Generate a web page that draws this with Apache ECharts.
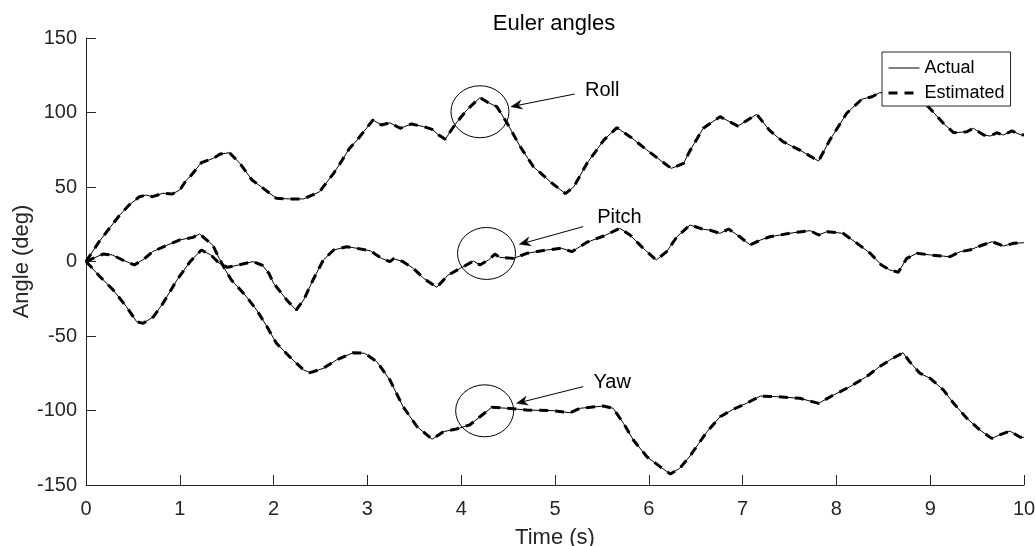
<!DOCTYPE html>
<html>
<head>
<meta charset="utf-8">
<title>Euler angles</title>
<script src="https://cdn.jsdelivr.net/npm/echarts@6/dist/echarts.min.js"></script>
<style>
  html, body { margin: 0; padding: 0; background: #fff; }
  #chart { width: 1035px; height: 546px; }
</style>
</head>
<body>
<div id="chart"></div>
<script>
// Time stamps (s) and angles (deg) for each Euler angle
const rollTime = [0, 0.14, 0.25, 0.36, 0.46, 0.57, 0.64, 0.71, 0.82, 0.92, 1.0, 1.07, 1.11, 1.23, 1.36, 1.43, 1.53, 1.64, 1.77, 1.89, 2.03, 2.17, 2.32, 2.49, 2.64, 2.71, 2.81, 2.89, 3.06, 3.15, 3.24, 3.35, 3.47, 3.6, 3.69, 3.76, 3.83, 3.93, 4.06, 4.2, 4.29, 4.38, 4.49, 4.63, 4.77, 4.95, 5.11, 5.2, 5.34, 5.52, 5.66, 5.8, 5.98, 6.12, 6.24, 6.37, 6.44, 6.58, 6.76, 6.95, 7.15, 7.29, 7.43, 7.61, 7.81, 7.93, 8.11, 8.27, 8.38, 8.46, 8.55, 8.65, 8.75, 8.85, 8.98, 9.14, 9.25, 9.39, 9.46, 9.57, 9.64, 9.71, 9.78, 9.87, 9.97, 10];
const rollAngle = [0, 13.3, 22.3, 31.2, 37.9, 43.5, 44.6, 43.5, 45.8, 45.3, 48, 54.7, 57, 66.3, 69.3, 72.1, 73, 65.9, 54.7, 49.1, 42.4, 42, 42, 46.8, 59.2, 65.9, 76, 81.5, 95, 91.6, 93.1, 89.4, 92.3, 90.5, 88.7, 84.9, 82, 91.6, 101.7, 110, 106.6, 103.9, 92.8, 77, 63.6, 53.5, 45.6, 50.1, 65.8, 81.5, 89.8, 83.8, 74.8, 68.1, 62.5, 65.8, 74.5, 89.4, 97.2, 90.9, 98.8, 87.8, 80.4, 74.8, 67.4, 81.5, 99.5, 108.9, 110.6, 113.3, 113, 114, 112, 110, 103.9, 92.8, 86.4, 87.1, 89.4, 84.9, 84.2, 86.4, 84.9, 87.6, 84.9, 85];

const pitchTime = [0, 0.15, 0.29, 0.43, 0.54, 0.61, 0.72, 0.82, 0.97, 1.11, 1.23, 1.33, 1.42, 1.51, 1.63, 1.78, 1.88, 1.95, 2.0, 2.14, 2.24, 2.32, 2.42, 2.53, 2.64, 2.78, 2.85, 3.03, 3.15, 3.24, 3.28, 3.38, 3.49, 3.6, 3.74, 3.86, 3.99, 4.13, 4.2, 4.29, 4.36, 4.41, 4.56, 4.7, 4.91, 5.07, 5.18, 5.34, 5.52, 5.69, 5.8, 5.94, 6.08, 6.19, 6.3, 6.44, 6.58, 6.65, 6.76, 6.85, 6.97, 7.08, 7.19, 7.29, 7.54, 7.72, 7.81, 7.9, 8.07, 8.22, 8.36, 8.48, 8.57, 8.66, 8.75, 8.86, 9.0, 9.21, 9.32, 9.42, 9.53, 9.66, 9.78, 9.89, 10];
const pitchAngle = [0, -10.2, -19.1, -30.3, -40.4, -41.5, -37, -28.1, -12.4, -0.1, 7.7, 4.4, -1.2, -3.9, -2.3, -0.1, -2.5, -8, -14.6, -25.8, -32.6, -25.8, -12.4, 1.0, 7.7, 9.9, 9.3, 7.2, 2.1, -0.1, 1.9, -0.1, -4.6, -11.3, -17.3, -9.1, -4.6, 0.3, -2.3, 1.0, 5.0, 2.8, 2.1, 5.5, 7.7, 8.9, 6.6, 12.9, 17.1, 22.3, 17.8, 8.9, 1.0, 6.6, 16.6, 24.5, 21.6, 21.1, 18.9, 21.8, 16.6, 11.1, 14.4, 16.6, 19.3, 20.7, 17.8, 20.0, 18.9, 12.2, 5.5, -2.3, -5.7, -7.2, 2.1, 5.5, 4.4, 3.2, 6.6, 7.7, 10.4, 13.3, 10.4, 12.2, 12.6];

const yawTime = [0, 0.18, 0.28, 0.39, 0.515, 0.62, 0.71, 0.85, 0.995, 1.14, 1.21, 1.35, 1.42, 1.49, 1.55, 1.71, 1.82, 1.93, 2.03, 2.17, 2.32, 2.39, 2.53, 2.67, 2.85, 2.97, 3.1, 3.24, 3.38, 3.53, 3.69, 3.81, 3.95, 4.09, 4.2, 4.325, 4.49, 4.7, 4.98, 5.16, 5.27, 5.515, 5.62, 5.73, 5.835, 5.98, 6.12, 6.23, 6.33, 6.44, 6.62, 6.76, 6.9, 7.04, 7.19, 7.36, 7.61, 7.81, 7.97, 8.145, 8.32, 8.46, 8.57, 8.71, 8.78, 8.89, 9.0, 9.14, 9.25, 9.39, 9.53, 9.655, 9.74, 9.85, 9.96, 10];
const yawAngle = [0, 5.0, 4.4, 1.0, -2.3, 1.7, 6.6, 10.6, 14.4, 16.2, 18.5, 11.1, 2.1, -6.2, -12.4, -23.6, -32.6, -43.8, -54.9, -63.9, -72.8, -74.6, -71.7, -66.1, -61.2, -61.6, -67.2, -79.5, -97.4, -110.9, -119.3, -114.2, -112.4, -109.7, -104.2, -97.9, -98.5, -99.7, -100.1, -101.5, -98.5, -97, -98.5, -108.6, -119.8, -131, -137.7, -142.6, -138.8, -130.5, -114.2, -104.2, -99.2, -95.2, -90.3, -90.7, -91.8, -95.2, -89.6, -84, -77.3, -70.6, -66.1, -61.2, -67.2, -75, -78.4, -86.2, -95.2, -105.2, -113.1, -118.7, -116.4, -113.8, -118, -118];

// Axis ticks
const timeTicks = [0, 1, 2, 3, 4, 5, 6, 7, 8, 9, 10];
const angleTicks = [-150, -100, -50, 0, 50, 100, 150];

// Callouts: label, ellipse centre, arrow tail, arrow head, label anchor (data units)
const calloutLabels = ['Roll', 'Pitch', 'Yaw'];
const calloutPlacement = [
  [4.2, 100.5, 5.21, 112.4, 4.53, 103.9, 5.32, 115],
  [4.27, 5.4, 5.30, 23.4, 4.62, 11.5, 5.45, 29.4],
  [4.25, -100.2, 5.30, -84, 4.59, -95.2, 5.41, -81.3]
];

const FONT = '"Liberation Sans", Arial, Helvetica, sans-serif';
const AXIS_COLOR = '#262626';
const ACTUAL_LINE = { color: '#000', width: 1, type: 'solid' };
const ESTIMATED_LINE = { color: '#000', width: 3, type: [9, 7] };

function pairs(ts, vs) {
  return ts.map((t, i) => [t, vs[i]]);
}

const curves = [
  pairs(rollTime, rollAngle),
  pairs(pitchTime, pitchAngle),
  pairs(yawTime, yawAngle)
];

const actualSeries = curves.map(d => ({
  name: 'Actual',
  type: 'line',
  data: d,
  symbol: 'none',
  smooth: false,
  silent: true,
  itemStyle: { color: '#000' },
  lineStyle: ACTUAL_LINE,
  z: 2
}));

const estimatedSeries = curves.map(d => ({
  name: 'Estimated',
  type: 'line',
  data: d,
  symbol: 'none',
  smooth: false,
  silent: true,
  itemStyle: { color: '#000' },
  lineStyle: ESTIMATED_LINE,
  z: 3
}));

function renderCallout(params, api) {
  const c = api.coord([api.value(0), api.value(1)]);
  const tail = api.coord([api.value(2), api.value(3)]);
  const head = api.coord([api.value(4), api.value(5)]);
  const lab = api.coord([api.value(6), api.value(7)]);
  const rx = 29, ry = 26;
  const dx = head[0] - tail[0], dy = head[1] - tail[1];
  const len = Math.sqrt(dx * dx + dy * dy);
  const ux = dx / len, uy = dy / len;
  const nx = -uy, ny = ux;
  const L = 11, W = 4.5, N = 7.5;
  const notch = [head[0] - N * ux, head[1] - N * uy];
  const ellipsePath =
    'M' + (c[0] - rx) + ' ' + c[1] +
    ' A' + rx + ' ' + ry + ' 0 1 0 ' + (c[0] + rx) + ' ' + c[1] +
    ' A' + rx + ' ' + ry + ' 0 1 0 ' + (c[0] - rx) + ' ' + c[1] + ' Z';
  return {
    type: 'group',
    children: [
      {
        type: 'path',
        shape: { pathData: ellipsePath },
        style: { fill: 'none', stroke: '#000', lineWidth: 1 }
      },
      {
        type: 'line',
        shape: { x1: tail[0], y1: tail[1], x2: notch[0], y2: notch[1] },
        style: { stroke: '#000', lineWidth: 1 }
      },
      {
        type: 'polygon',
        shape: {
          points: [
            head,
            [head[0] - L * ux + W * nx, head[1] - L * uy + W * ny],
            notch,
            [head[0] - L * ux - W * nx, head[1] - L * uy - W * ny]
          ]
        },
        style: { fill: '#000', stroke: '#000', lineWidth: 0.5 }
      },
      {
        type: 'text',
        x: lab[0],
        y: lab[1],
        style: {
          text: calloutLabels[params.dataIndex],
          font: '20px ' + FONT,
          fill: '#000',
          align: 'left',
          verticalAlign: 'middle'
        }
      }
    ]
  };
}

const chart = echarts.init(document.getElementById('chart'), null, { renderer: 'canvas' });

chart.setOption({
  backgroundColor: '#fff',
  animation: false,
  title: {
    text: 'Euler angles',
    left: 549,
    top: 8,
    textAlign: 'center',
    textStyle: { fontFamily: FONT, fontSize: 22, fontWeight: 'normal', color: '#000' }
  },
  grid: { left: 86, right: 11, top: 38, bottom: 61, containLabel: false, outerBoundsMode: 'none' },
  legend: {
    data: [
      { name: 'Actual', lineStyle: { width: ACTUAL_LINE.width, type: ACTUAL_LINE.type } },
      { name: 'Estimated', lineStyle: { width: ESTIMATED_LINE.width, type: ESTIMATED_LINE.type } }
    ],
    orient: 'vertical',
    left: 882,
    top: 52,
    padding: [6, 6, 3, 5],
    itemGap: 5,
    itemWidth: 31,
    itemHeight: 12,
    backgroundColor: '#fff',
    borderColor: AXIS_COLOR,
    borderWidth: 1,
    borderRadius: 0,
    selectedMode: false,
    itemStyle: { opacity: 0, borderWidth: 0 },
    textStyle: { fontFamily: FONT, fontSize: 18, color: '#000', lineHeight: 20 }
  },
  xAxis: {
    type: 'value',
    min: timeTicks[0],
    max: timeTicks[timeTicks.length - 1],
    interval: timeTicks[1] - timeTicks[0],
    name: 'Time (s)',
    nameLocation: 'middle',
    nameGap: 42,
    nameMoveOverlap: false,
    nameTextStyle: { fontFamily: FONT, fontSize: 22, color: AXIS_COLOR },
    axisLine: { show: true, onZero: false, lineStyle: { color: AXIS_COLOR, width: 1 } },
    axisTick: { show: true, inside: true, length: 10, lineStyle: { color: AXIS_COLOR, width: 1 } },
    axisLabel: { fontFamily: FONT, fontSize: 20, color: AXIS_COLOR, margin: 14 },
    splitLine: { show: false }
  },
  yAxis: {
    type: 'value',
    min: angleTicks[0],
    max: angleTicks[angleTicks.length - 1],
    interval: angleTicks[1] - angleTicks[0],
    name: 'Angle (deg)',
    nameLocation: 'middle',
    nameRotate: 90,
    nameGap: 53,
    nameMoveOverlap: false,
    nameTextStyle: { fontFamily: FONT, fontSize: 22, color: AXIS_COLOR },
    axisLine: { show: true, onZero: false, lineStyle: { color: AXIS_COLOR, width: 1 } },
    axisTick: { show: true, inside: true, length: 10, lineStyle: { color: AXIS_COLOR, width: 1 } },
    axisLabel: { fontFamily: FONT, fontSize: 20, color: AXIS_COLOR, margin: 9 },
    splitLine: { show: false }
  },
  series: [
    ...actualSeries,
    ...estimatedSeries,
    {
      name: 'Callouts',
      type: 'custom',
      coordinateSystem: 'cartesian2d',
      renderItem: renderCallout,
      data: calloutPlacement,
      encode: { x: 0, y: 1 },
      clip: false,
      silent: true,
      z: 5
    }
  ]
});
</script>
</body>
</html>
